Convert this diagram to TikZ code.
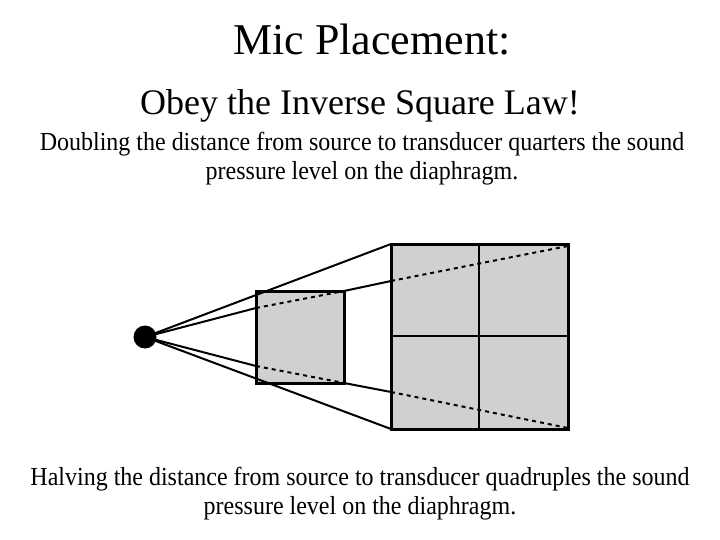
\documentclass[tikz,border=0pt]{standalone}
\usepackage{fontspec}
\setmainfont{Liberation Serif}
\newfontfamily\bodyfont[FakeStretch=0.923]{Liberation Serif}
\begin{document}
\begin{tikzpicture}[x=1pt,y=-1pt,
  titletext/.style={font=\fontsize{44}{50}\selectfont, anchor=base},
  subtext/.style={font=\fontsize{36}{42}\selectfont, anchor=base},
  bodytext/.style={font=\bodyfont\fontsize{26}{29}\selectfont, anchor=base, align=center},
  ray/.style={line width=2pt, black},
  dotray/.style={line width=2pt, black, dash pattern=on 4pt off 4pt},
  boxstyle/.style={fill={rgb,255:red,208;green,208;blue,208}, draw=black, line width=3pt},
  gridline/.style={line width=1.5pt, black}]
\useasboundingbox (0,0) rectangle (720,540);
\node[titletext] (title) at (372,55) {Mic Placement:};
\node[subtext] (sub) at (360,115) {Obey the Inverse Square Law!};
\node[bodytext] (top1) at (362,151) {Doubling the distance from source to transducer quarters the sound};
\node[bodytext] (top2) at (362,180) {pressure level on the diaphragm.};
\node[bodytext] (bot1) at (360,485) {Halving the distance from source to transducer quadruples the sound};
\node[bodytext] (bot2) at (360,514) {pressure level on the diaphragm.};
% coordinates
\coordinate (src) at (145,337);
\coordinate (sTL) at (256,291);
\coordinate (sTR) at (344,291);
\coordinate (sBR) at (344,383);
\coordinate (sBL) at (256,383);
\coordinate (sL1) at (256,308);
\coordinate (sL2) at (256,366);
\coordinate (LTL) at (391,244);
\coordinate (LTR) at (568,246);
\coordinate (LBR) at (568,428);
\coordinate (LBL) at (391,429);
\coordinate (LBRc) at (568,429);
\coordinate (LL1) at (391,281);
\coordinate (LL2) at (391,392);
\coordinate (LTop) at (479,244);
\coordinate (LBot) at (479,429);
\coordinate (LLeft) at (391,336);
\coordinate (LRight) at (568,336);
% boxes
\draw[boxstyle] (sTL) rectangle (sBR);
\draw[boxstyle] (LTL) rectangle (LBRc);
\draw[gridline] (LTop) -- (LBot);
\draw[gridline] (LLeft) -- (LRight);
% rays
\draw[ray] (src) -- (LTL);
\draw[ray] (src) -- (LBL);
\draw[ray] (src) -- (sL1);
\draw[dotray] (sL1) -- (sTR);
\draw[ray] (sTR) -- (LL1);
\draw[dotray] (LL1) -- (LTR);
\draw[ray] (src) -- (sL2);
\draw[dotray] (sL2) -- (sBR);
\draw[ray] (sBR) -- (LL2);
\draw[dotray] (LL2) -- (LBR);
\fill[black] (src) circle (11.5);
\end{tikzpicture}
\end{document}
